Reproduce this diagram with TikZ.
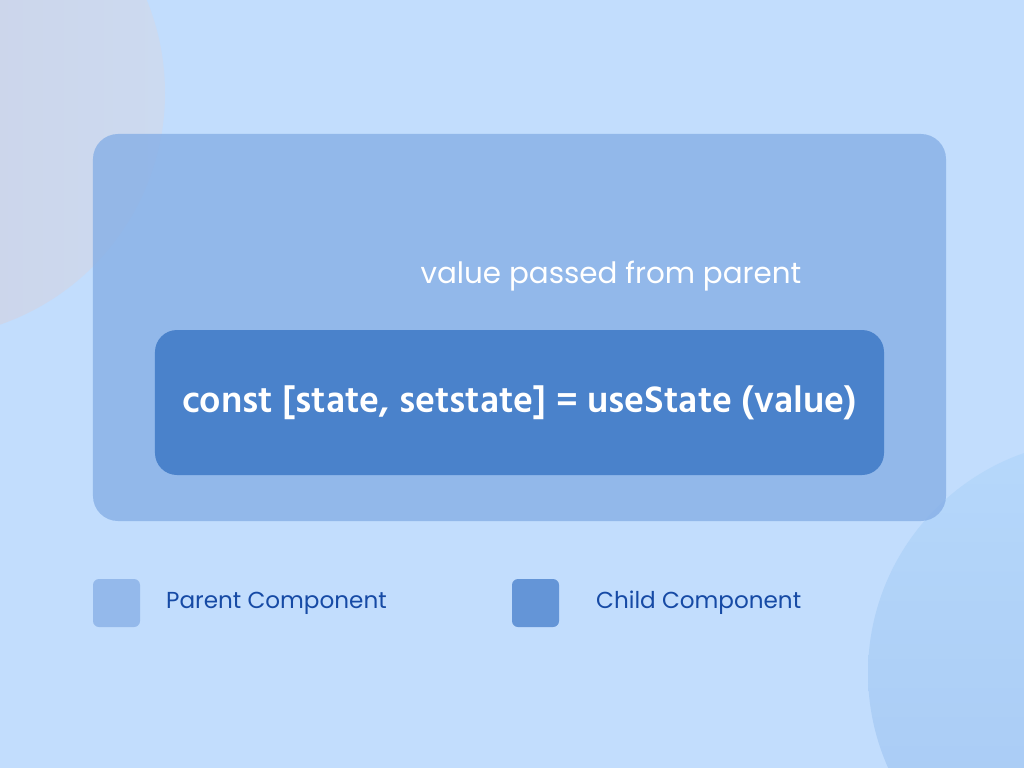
\documentclass[tikz,border=0pt]{standalone}
\usepackage{fontspec}
\setmainfont{Poppins}
\newfontfamily\codefont{Hind Madurai}
\definecolor{bgblue}{RGB}{194,221,253}
\definecolor{parentblue}{RGB}{134,175,230}
\definecolor{childblue}{RGB}{74,130,203}
\definecolor{keyparent}{RGB}{148,185,235}
\definecolor{keychild}{RGB}{100,149,215}
\definecolor{legendtext}{RGB}{22,74,165}
\usetikzlibrary{positioning}

\begin{document}
\begin{tikzpicture}[x=1bp,y=-1bp,
    keybox/.style={rounded corners=6bp, minimum width=47bp, minimum height=48bp, inner sep=0pt},
    keylabel/.style={text=legendtext, font=\fontsize{23.2}{27}\selectfont, inner sep=0pt, anchor=west}]
            \clip (0,0) rectangle (1024,768);
            \fill[bgblue] (0,0) rectangle (1024,768);
            % background circles
            \shade[left color={rgb,255:red,204;green,206;blue,226}, right color={rgb,255:red,204;green,218;blue,240}] (-80,93) circle (245);
            \shade[top color={rgb,255:red,182;green,216;blue,251}, bottom color={rgb,255:red,166;green,200;blue,243}] (1101,673) circle (233);
            % parent and child components
            \node[fill=parentblue, fill opacity=0.8, rounded corners=25bp, minimum width=853bp, minimum height=387bp, inner sep=0pt] (parent) at (519.5,327.5) {};
            \node[text=white, font=\fontsize{29.5}{33}\selectfont, inner sep=0pt] (passed) at (611,276) {value passed from parent};
            \node[fill=childblue, rounded corners=22bp, minimum width=729bp, minimum height=145bp, inner sep=0pt] (child) at (519.5,402.5) {};
            \node[text=white, font=\codefont\bfseries\fontsize{38}{42}\selectfont, inner sep=0pt] (code) at (child.center) {const [state, setstate] = useState (value)};
            % legend
            \node[keybox, fill=keyparent] (keyp) at (116.5,603) {};
            \node[keylabel] (labp) at (166,603) {Parent Component};
            \node[keybox, fill=keychild] (keyc) at (535.5,603) {};
            \node[keylabel] (labc) at (596,603) {Child Component};
        \end{tikzpicture}
\end{document}
